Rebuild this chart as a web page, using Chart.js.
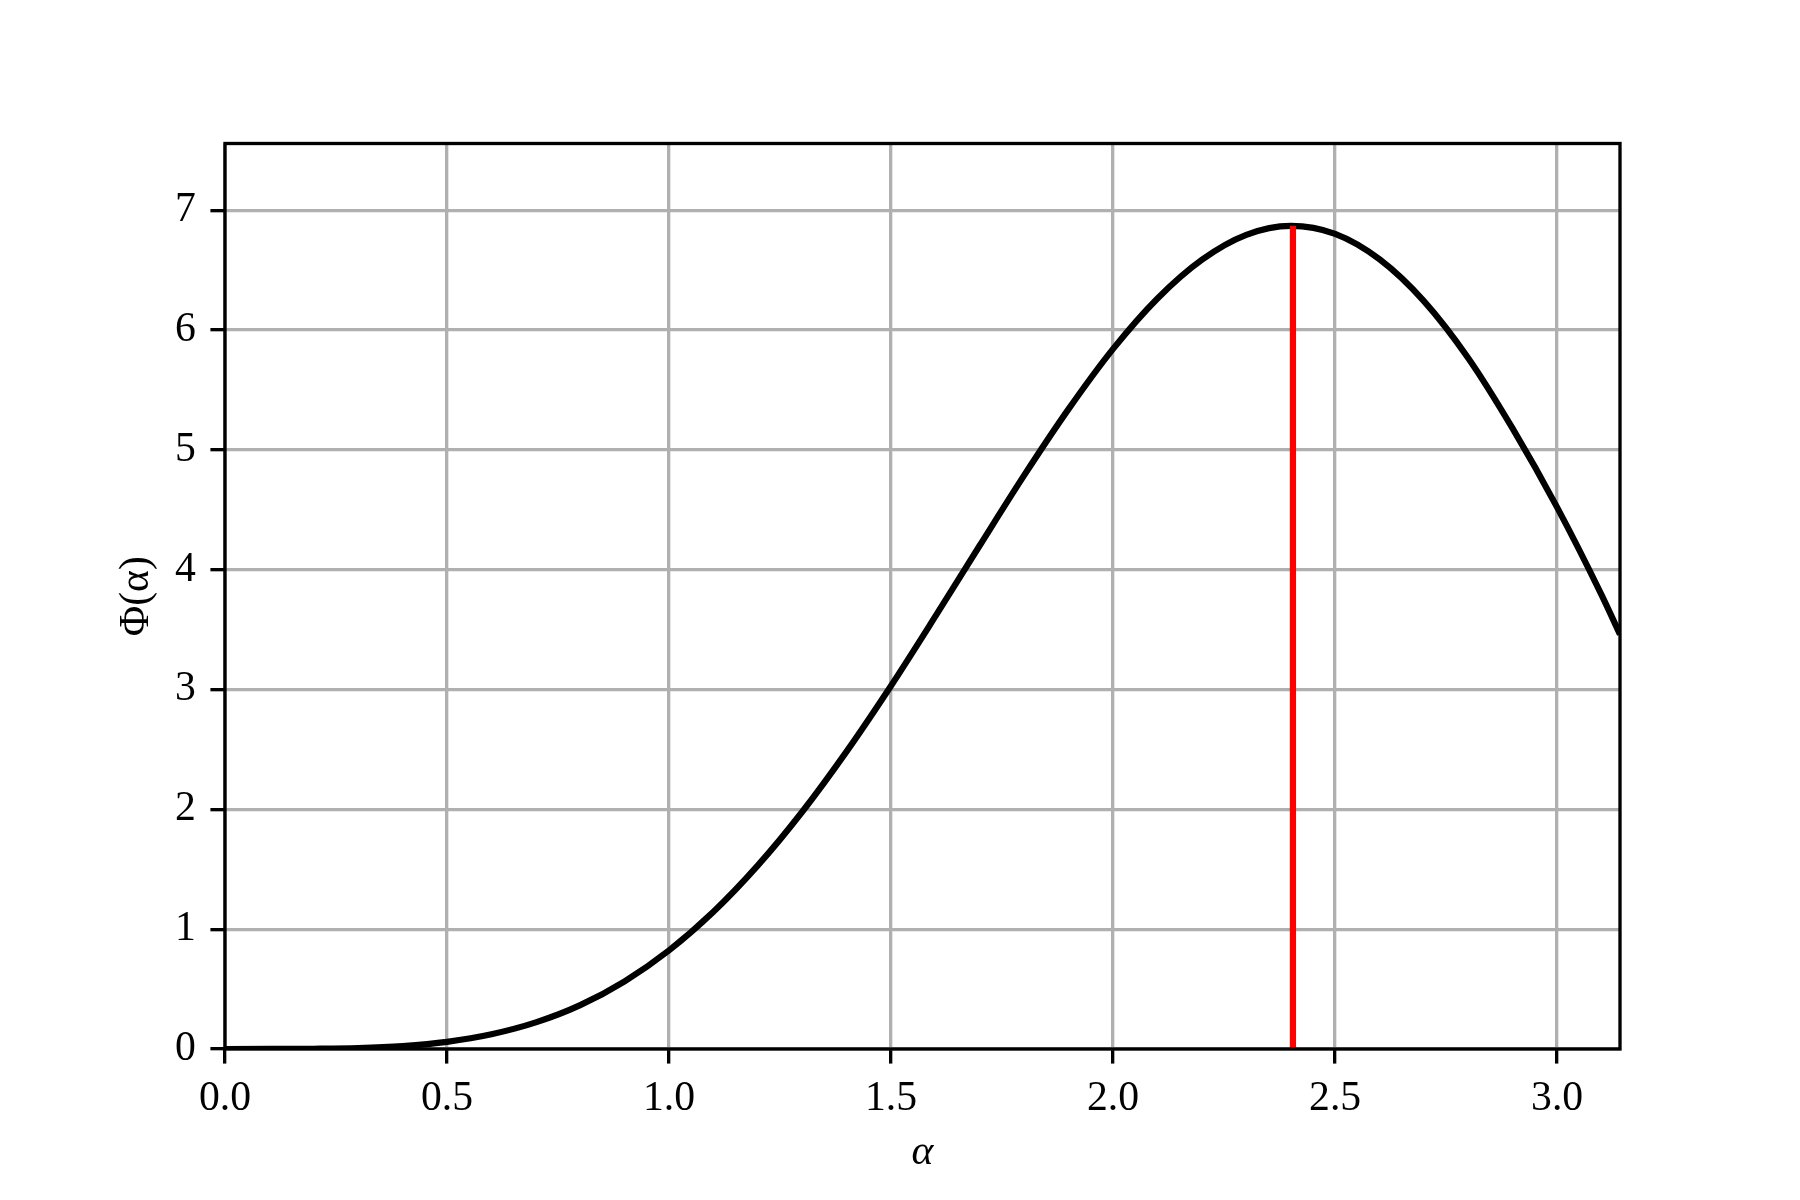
<!DOCTYPE html>
<html>
<head>
<meta charset="utf-8">
<script src="https://cdn.jsdelivr.net/npm/chart.js@4.4.1/dist/chart.umd.min.js"></script>
<style>
  html, body { margin: 0; padding: 0; background: #ffffff; }
  #wrap { width: 1800px; height: 1200px; }
</style>
</head>
<body>
<div id="wrap"><canvas id="c" width="1800" height="1200"></canvas></div>
<script>
// ---- data ----
const alphaValues = [0.0, 0.1, 0.2, 0.3, 0.4, 0.5, 0.6, 0.7, 0.8, 0.9,
                     1.0, 1.1, 1.2, 1.3, 1.4, 1.5, 1.6, 1.7, 1.8, 1.9,
                     2.0, 2.1, 2.2, 2.3, 2.4, 2.5, 2.6, 2.7, 2.8, 2.9,
                     3.0, 3.1, 3.1416];
const phiValues = [0.0, 0.0001, 0.002, 0.008, 0.025, 0.060, 0.123, 0.222, 0.366, 0.565,
                   0.823, 1.145, 1.532, 1.980, 2.484, 3.032, 3.612, 4.204, 4.789, 5.342,
                   5.843, 6.264, 6.587, 6.795, 6.870, 6.803, 6.591, 6.242, 5.765, 5.177,
                   4.520, 3.790, 3.460];
const peakAlpha = [2.405, 2.405];
const peakPhi = [0.0, 6.87];
const xTickValues = [0.0, 0.5, 1.0, 1.5, 2.0, 2.5, 3.0];
const yTickValues = [0, 1, 2, 3, 4, 5, 6, 7];
const xLimits = [0, 3.1416];
const yLimits = [0, 7.557];
const xTitle = 'α';
const yTitle = 'Φ(α)';

// ---- build chart ----
const curvePoints = alphaValues.map((a, i) => ({ x: a, y: phiValues[i] }));
const peakPoints = peakAlpha.map((a, i) => ({ x: a, y: peakPhi[i] }));

const FONT = "'Liberation Serif', 'Times New Roman', serif";
const PX = 300 / 72;

const framePlugin = {
  id: 'frame',
  afterDatasetsDraw(chart) {
    const { ctx, chartArea: a } = chart;
    ctx.save();
    ctx.strokeStyle = '#000000';
    ctx.lineWidth = 0.8 * PX;
    ctx.strokeRect(a.left, a.top, a.right - a.left, a.bottom - a.top);
    ctx.restore();
  }
};

new Chart(document.getElementById('c'), {
  type: 'scatter',
  data: {
    datasets: [
      {
        label: 'peak',
        data: peakPoints,
        showLine: true,
        borderColor: '#ff0000',
        borderWidth: 1.5 * PX,
        pointRadius: 0,
        clip: 0,
        order: 0
      },
      {
        label: 'Phi',
        data: curvePoints,
        showLine: true,
        borderColor: '#000000',
        borderWidth: 1.5 * PX,
        pointRadius: 0,
        cubicInterpolationMode: 'monotone',
        clip: 0,
        order: 1
      }
    ]
  },
  options: {
    responsive: false,
    animation: false,
    events: [],
    layout: { padding: { left: 0, top: 143.5, right: 180, bottom: 0 } },
    plugins: {
      legend: { display: false },
      tooltip: { enabled: false },
      title: { display: false }
    },
    scales: {
      x: {
        type: 'linear',
        min: xLimits[0],
        max: xLimits[1],
        afterBuildTicks: (s) => { s.ticks = xTickValues.map(v => ({ value: v })); },
        afterFit: (s) => { s.height = 151; },
        grid: {
          color: '#b0b0b0',
          lineWidth: 0.8 * PX,
          drawTicks: true,
          tickLength: 3.5 * PX,
          tickColor: '#000000',
          tickWidth: 0.8 * PX
        },
        border: { display: false },
        ticks: {
          color: '#000000',
          font: { family: FONT, size: 41.7 },
          padding: 10,
          maxRotation: 0,
          autoSkip: false,
          callback: (v) => Number(v).toFixed(1)
        },
        title: {
          display: true,
          text: xTitle,
          color: '#000000',
          font: { family: FONT, size: 41.7, style: 'italic' },
          padding: { top: 0, bottom: 22 }
        }
      },
      y: {
        type: 'linear',
        min: yLimits[0],
        max: yLimits[1],
        afterBuildTicks: (s) => { s.ticks = yTickValues.map(v => ({ value: v })); },
        afterFit: (s) => { s.width = 225; },
        grid: {
          color: '#b0b0b0',
          lineWidth: 0.8 * PX,
          drawTicks: true,
          tickLength: 3.5 * PX,
          tickColor: '#000000',
          tickWidth: 0.8 * PX
        },
        border: { display: false },
        ticks: {
          color: '#000000',
          font: { family: FONT, size: 41.7 },
          padding: 3.5 * PX,
          autoSkip: false,
          callback: (v) => String(v)
        },
        title: {
          display: true,
          text: yTitle,
          color: '#000000',
          font: { family: FONT, size: 41.7 },
          padding: { top: 112, bottom: 0 }
        }
      }
    }
  },
  plugins: [framePlugin]
});
</script>
</body>
</html>
